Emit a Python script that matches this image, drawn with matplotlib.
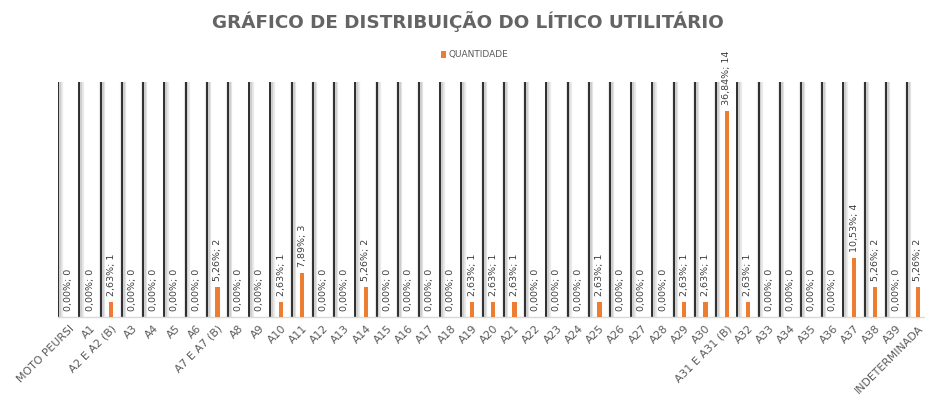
import matplotlib.pyplot as plt
import matplotlib.transforms as mtransforms

categorias = ["MOTO PEURSI", "A1", "A2 E A2 (B)", "A3", "A4", "A5", "A6", "A7 E A7 (B)",
              "A8", "A9", "A10", "A11", "A12", "A13", "A14", "A15", "A16", "A17", "A18",
              "A19", "A20", "A21", "A22", "A23", "A24", "A25", "A26", "A27", "A28", "A29",
              "A30", "A31 E A31 (B)", "A32", "A33", "A34", "A35", "A36", "A37", "A38",
              "A39", "INDETERMINADA"]
quantidade = [0, 0, 1, 0, 0, 0, 0, 2, 0, 0, 1, 3, 0, 0, 2, 0, 0, 0, 0, 1, 1, 1, 0, 0, 0,
              1, 0, 0, 0, 1, 1, 14, 1, 0, 0, 0, 0, 4, 2, 0, 2]

laranja = "#ED7D31"
cinza = "#595959"

total = sum(quantidade)
x = list(range(len(categorias)))

fig = plt.figure(figsize=(9.25, 3.98), dpi=100)
ax = fig.add_axes([0.063, 0.2043, 0.9406, 0.5897])

# linhas verticais separando as categorias, com sombra suave
for i in range(len(categorias) + 1):
    xl = i - 0.5
    ax.axvline(xl + 0.06, color="#000000", alpha=0.08, lw=4.5, zorder=1)
    ax.axvline(xl + 0.04, color="#000000", alpha=0.12, lw=2.5, zorder=1)
    ax.axvline(xl, color="#111111", lw=1.2, zorder=2)

ax.bar(x, quantidade, width=0.2, color=laranja, zorder=3, label="QUANTIDADE")

# rótulos de dados: percentual; quantidade
offset = mtransforms.offset_copy(ax.transData, fig=fig, x=0, y=6, units="dots")
for xi, q in zip(x, quantidade):
    pct = f"{q / total * 100:.2f}".replace(".", ",")
    ax.text(xi, q, f"{pct}%; {q}", rotation=90, ha="center", va="bottom",
            fontsize=6.8, color="#404040", transform=offset, zorder=4)

ax.set_xlim(-0.5, len(categorias) - 0.5)
ax.set_ylim(0, 16)
ax.set_yticks([])
ax.set_xticks(x)
ax.set_xticklabels(categorias, rotation=45, ha="right", rotation_mode="anchor",
                   fontsize=7.8, color=cinza)
ax.tick_params(axis="x", length=0, pad=5)
for lado in ["top", "right", "left"]:
    ax.spines[lado].set_visible(False)
ax.spines["bottom"].set_color("#D9D9D9")
ax.spines["bottom"].set_linewidth(1.0)

fig.text(0.506, 0.945, "GRÁFICO DE DISTRIBUIÇÃO DO LÍTICO UTILITÁRIO", ha="center",
         va="center", fontsize=13.2, fontweight="bold", color="#646464")
fig.legend(loc="center", bbox_to_anchor=(0.513, 0.862), frameon=False, fontsize=6.5,
           handlelength=0.6, handleheight=0.9, handletextpad=0.3, labelcolor=cinza)

fig.savefig("out.png", dpi=100)
